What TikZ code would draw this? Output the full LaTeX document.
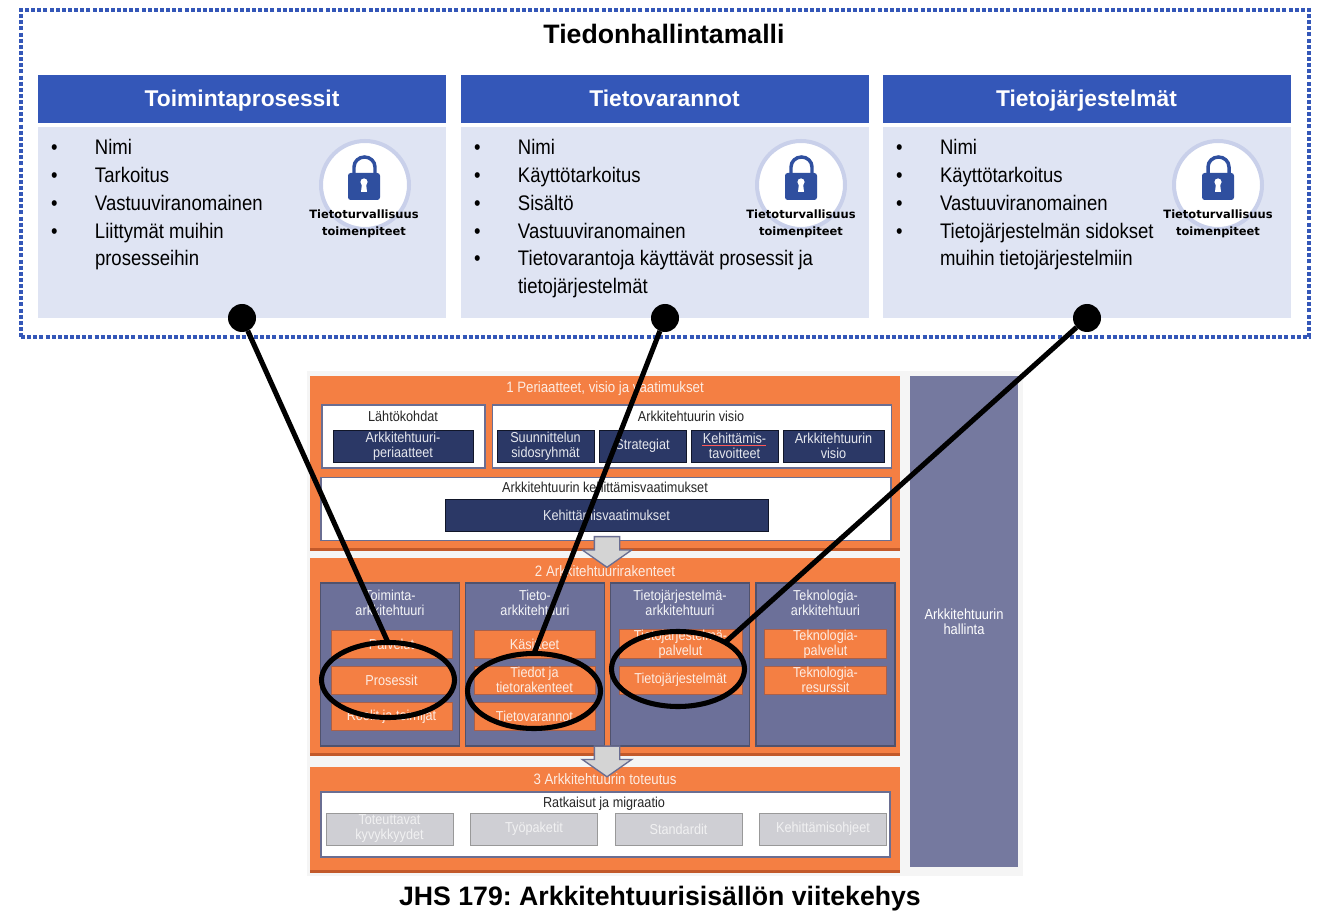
\documentclass[tikz,border=0pt]{standalone}
\usepackage{fontspec}
\setmainfont{Liberation Sans}
\newfontfamily\narrowfont[FakeStretch=0.88]{Liberation Sans}
\newfontfamily\lockfont{DejaVu Sans}
\usepackage{array}
\usetikzlibrary{positioning, shapes.geometric, shapes.arrows, shadows}
\definecolor{hdrblue}{HTML}{3457B8}
\definecolor{bodyblue}{HTML}{DFE4F3}
\definecolor{ringblue}{HTML}{C9D0EA}
\definecolor{lockblue}{HTML}{2F4F9F}
\definecolor{jhsorange}{HTML}{F47F43}
\definecolor{jhsshade}{HTML}{C2592A}
\definecolor{jhsnavy}{HTML}{2B3866}
\definecolor{jhspurple}{HTML}{6C7099}
\definecolor{jhspanel}{HTML}{75799F}
\definecolor{jhsline}{HTML}{6A6E92}
\definecolor{jhsgrey}{HTML}{CFCFD4}
\tikzset{wh/.style 2 args={minimum width=#1*.75pt, minimum height=#2*.75pt}}
\tikzset{padlock/.pic={
    \draw[lockblue, line width=2.6pt] (-10,-12) -- (-10,-18) arc (180:360:10.5 and 10) -- (11,-12);
    \fill[lockblue, rounded corners=2pt] (-16,-12) rectangle (16,15);
    \fill[white] (0,-3) circle (3.6);
    \fill[white] (-2,-2) -- (2,-2) -- (3,7) -- (-3,7) -- cycle;
}}
\newcommand{\blt}{\textbullet}
\frenchspacing
\begin{document}
\begin{tikzpicture}[x=.75pt, y=-.75pt, inner sep=0pt, outer sep=0pt]
        \tikzstyle{hdr}=[fill=hdrblue, text=white, wh={408}{48}, text height=12.2pt, text depth=.2pt, font=\fontsize{17.1}{20}\bfseries\selectfont];
        \tikzstyle{bodybox}=[fill=bodyblue, wh={408}{191}];
        \tikzstyle{items}=[anchor=north west, font=\narrowfont\fontsize{15.8}{20.8}\selectfont];
        \tikzstyle{ring}=[circle, draw=ringblue, line width=3pt, fill=white, minimum size=66pt];
        \tikzstyle{locktext}=[align=center, font=\lockfont\fontsize{8.6}{12.6}\bfseries\selectfont];
        \tikzstyle{dot}=[circle, fill=black, minimum size=21pt];
        \tikzstyle{loop}=[ellipse, draw=black, line width=3.8pt, wh={133}{75}];
        \tikzstyle{band}=[fill=jhsorange, drop shadow={shadow xshift=0pt, shadow yshift=-2.2pt, fill=jhsshade, opacity=1}];
        \tikzstyle{whitebox}=[fill=white, draw=jhsline, line width=1pt];
        \tikzstyle{navy}=[fill=jhsnavy, draw=black!60!jhsnavy, line width=.5pt, text=white!88!jhsnavy, align=center, font=\narrowfont\fontsize{10.8}{11.2}\selectfont];
        \tikzstyle{col}=[fill=jhspurple, draw=jhsline!75!black, line width=1pt, wh={139}{163}];
        \tikzstyle{coltitle}=[text=white!92!jhspurple, align=center, font=\narrowfont\fontsize{10.8}{11.2}\selectfont];
        \tikzstyle{inner}=[fill=jhsorange, draw=jhsshade!70!jhspurple, line width=.7pt, text=white!85!jhsorange, align=center, font=\narrowfont\fontsize{10.8}{11.2}\selectfont];
        \tikzstyle{greybox}=[fill=jhsgrey, draw=black!40, line width=.7pt, wh={127}{32}, text=white!70!jhsgrey, align=center, font=\narrowfont\fontsize{10.8}{11.2}\selectfont];
        \tikzstyle{label}=[text=black!85, font=\narrowfont\fontsize{10.8}{11.2}\selectfont];
        \tikzstyle{bandtitle}=[text=white!85!jhsorange, font=\narrowfont\fontsize{11.3}{11.2}\selectfont];
        \tikzstyle{flow}=[single arrow, fill=black!17, draw=jhsline, line width=1pt, rotate=-90, inner ysep=9pt, single arrow head extend=9pt, minimum height=23pt, single arrow tip angle=110, single arrow head indent=0pt];

        \useasboundingbox (0,0) rectangle (1320,912);

        % upper part
        \node[draw=hdrblue, line width=3pt, dash pattern=on 3pt off 1.6pt, wh={1288}{327}] (model) at (665,173.5) {};
        \node[font=\fontsize{20}{24}\bfseries\selectfont] (modeltitle) at (664,34) {Tiedonhallintamalli};

        \node[hdr] (procs) at (242,99) {Toimintaprosessit};
        \node[hdr] (stores) at (664.5,99) {Tietovarannot};
        \node[hdr] (systems) at (1086.5,99) {Tietojärjestelmät};
        \node[bodybox] (procsbody) at (242,222.5) {};
        \node[bodybox] (storesbody) at (664.5,222.5) {};
        \node[bodybox] (systemsbody) at (1086.5,222.5) {};

        \node[items] (procsitems) at (51,135.5) {\begin{tabular}{@{}p{33pt}@{}l@{}}
            \blt & Nimi\\ \blt & Tarkoitus\\ \blt & Vastuuviranomainen\\
            \blt & Liittymät muihin\\ & prosesseihin\end{tabular}};
        \node[items] (storesitems) at (474,135.5) {\begin{tabular}{@{}p{33pt}@{}l@{}}
            \blt & Nimi\\ \blt & Käyttötarkoitus\\ \blt & Sisältö\\ \blt & Vastuuviranomainen\\
            \blt & Tietovarantoja käyttävät prosessit ja\\ & tietojärjestelmät\end{tabular}};
        \node[items] (systemsitems) at (896,135.5) {\begin{tabular}{@{}p{33pt}@{}l@{}}
            \blt & Nimi\\ \blt & Käyttötarkoitus\\ \blt & Vastuuviranomainen\\
            \blt & Tietojärjestelmän sidokset\\ & muihin tietojärjestelmiin\end{tabular}};

        \node[ring] (ringA) at (365,185) {};
        \node[ring] (ringB) at (801,185) {};
        \node[ring] (ringC) at (1218,185) {};
        \pic at (364,185) {padlock};
        \pic at (801,185) {padlock};
        \pic at (1218,185) {padlock};
        \node[locktext] (lockA) at (364,223.5) {Tietoturvallisuus\\toimenpiteet};
        \node[locktext] (lockB) at (801,223.5) {Tietoturvallisuus\\toimenpiteet};
        \node[locktext] (lockC) at (1218,223.5) {Tietoturvallisuus\\toimenpiteet};

        % framework picture
        \node[fill=black!4, wh={716}{504}] (frame) at (665,623.5) {};
        \node[fill=jhspanel, wh={108}{491}] (governance) at (964,621.5) {};
        \node[text=white, align=center, font=\narrowfont\fontsize{11}{11.2}\selectfont] (governancetext) at (964,622) {Arkkitehtuurin\\hallinta};

        \node[band, wh={590}{172}] (bandA) at (605,462) {};
        \node[bandtitle] (bandAtitle) at (605,388.5) {1 Periaatteet, visio ja vaatimukset};
        \node[whitebox, wh={163}{63}] (origin) at (403.5,436.5) {};
        \node[label] (origintitle) at (403,416) {Lähtökohdat};
        \node[navy, wh={140}{32}] (principles) at (403,446) {Arkkitehtuuri-\\periaatteet};
        \node[whitebox, wh={399}{63}] (vision) at (692,436.5) {};
        \node[label] (visiontitle) at (691,416) {Arkkitehtuurin visio};
        \node[navy, wh={97}{32}] (groups) at (545.5,446) {Suunnittelun\\sidosryhmät};
        \node[navy, wh={87}{32}] (strategies) at (642.5,446) {Strategiat};
        \node[navy, wh={87}{32}] (goals) at (734.5,446) {Kehittämis-\\tavoitteet};
        \node[navy, wh={101}{32}] (archvision) at (833.5,446) {Arkkitehtuurin\\visio};
        \node[whitebox, wh={570}{63}] (reqbox) at (606,509) {};
        \node[label] (reqtitle) at (605,487) {Arkkitehtuurin kehittämisvaatimukset};
        \node[navy, wh={323}{32}] (reqs) at (606.5,515) {Kehittämisvaatimukset};
        \draw[red!65, line width=.5pt] (702,445) -- (766,445);

        \node[band, wh={590}{195}] (bandB) at (605,655.5) {};
        \node[bandtitle] (bandBtitle) at (605,571) {2 Arkkitehtuurirakenteet};
        \node[col] (colA) at (390,664.5) {};
        \node[col] (colB) at (535,664.5) {};
        \node[col] (colC) at (680,664.5) {};
        \node[col] (colD) at (825.5,664.5) {};
        \node[coltitle] (colAtitle) at (390,603) {Toiminta-\\arkkitehtuuri};
        \node[coltitle] (colBtitle) at (535,603) {Tieto-\\arkkitehtuuri};
        \node[coltitle] (colCtitle) at (680,603) {Tietojärjestelmä-\\arkkitehtuuri};
        \node[coltitle] (colDtitle) at (825.5,603) {Teknologia-\\arkkitehtuuri};
        \node[inner, wh={121}{28}] (services) at (391.5,644) {Palvelut};
        \node[inner, wh={121}{28}] (processes) at (391.5,680) {Prosessit};
        \node[inner, wh={121}{28}] (roles) at (391.5,716.5) {Roolit ja toimijat};
        \node[inner, wh={121}{28}] (concepts) at (534.5,644) {Käsitteet};
        \node[inner, wh={121}{28}] (data) at (534.5,680) {Tiedot ja\\tietorakenteet};
        \node[inner, wh={121}{28}] (datastores) at (534.5,716.5) {Tietovarannot};
        \node[inner, wh={123}{28}] (syspalv) at (680.5,644) {Tietojärjestelmä-\\palvelut};
        \node[inner, wh={123}{28}] (sysunits) at (680.5,680) {Tietojärjestelmät};
        \node[inner, wh={122}{28}] (techserv) at (825.5,644) {Teknologia-\\palvelut};
        \node[inner, wh={122}{28}] (techres) at (825.5,680) {Teknologia-\\resurssit};

        \node[band, wh={590}{103}] (bandC) at (605,818.5) {};
        \node[bandtitle] (bandCtitle) at (605,779) {3 Arkkitehtuurin toteutus};
        \node[whitebox, wh={569}{65}] (solutions) at (605.5,824.5) {};
        \node[label] (solutionstitle) at (604,804) {Ratkaisut ja migraatio};
        \node[greybox] (capab) at (389.5,829) {Toteuttavat\\kyvykkyydet};
        \node[greybox] (workpk) at (534,829) {Työpaketit};
        \node[greybox] (standards) at (678.5,829) {Standardit};
        \node[greybox] (guides) at (823,829) {Kehittämisohjeet};

        \node[flow] (flowA) at (607,547.5) {};
        \node[flow] (flowB) at (607,757) {};

        \node[font=\fontsize{20}{24}\bfseries\selectfont] (caption) at (660,899) {JHS 179: Arkkitehtuurisisällön viitekehys};

        % links
        \node[loop] (loopA) at (388,680) {};
        \node[loop] (loopB) at (534,691) {};
        \node[loop] (loopC) at (678,669) {};
        \node[dot] (dotA) at (242,318) {};
        \node[dot] (dotB) at (665,318) {};
        \node[dot] (dotC) at (1087,318) {};

        \path[draw=black, line width=3.8pt]
        (dotA) edge (loopA.north)
        (dotB) edge (loopB.north)
        (dotC) edge (loopC.north east);
      \end{tikzpicture}
\end{document}
